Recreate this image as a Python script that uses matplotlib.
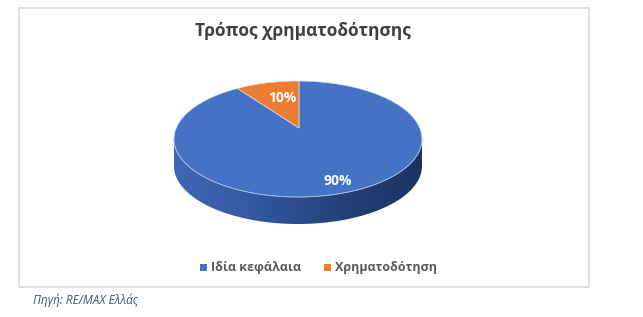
import numpy as np
import matplotlib
matplotlib.use("Agg")
import matplotlib.pyplot as plt
from matplotlib.patches import Polygon, Rectangle
from matplotlib.colors import LinearSegmentedColormap

plt.rcParams['font.family'] = ['Open Sans', 'DejaVu Sans']

labels = ["Ιδία κεφάλαια", "Χρηματοδότηση"]
shares = [90, 10]
colors = ["#4472C4", "#ED7D31"]
title = "Τρόπος χρηματοδότησης"
source = "Πηγή: RE/MAX Ελλάς"

fig = plt.figure(figsize=(6.43, 3.17), dpi=100)
ax = fig.add_axes([0, 0, 1, 1])
ax.set_xlim(0, 643)
ax.set_ylim(317, 0)
ax.axis('off')

# chart frame
ax.add_patch(Rectangle((19, 8), 570, 279, fill=False, edgecolor="#D9D9D9", linewidth=1.2))

# pie geometry (pixel space), apex a bit above ellipse centre for perspective
cx, cy, a, b, depth = 298, 139, 124, 58, 27
apex = np.array([299.0, 128.0])


def pt(t):
    t = np.radians(t)
    return cx + a * np.cos(t), cy - b * np.sin(t)


def rim(phi):
    # cast a ray from the apex in the (flattened) direction of phi onto the ellipse
    p = np.radians(phi)
    dx, dy = np.cos(p), -np.sin(p) * b / a
    ox, oy = apex[0] - cx, apex[1] - cy
    A = (dx / a) ** 2 + (dy / b) ** 2
    B = 2 * (ox * dx / a ** 2 + oy * dy / b ** 2)
    C = (ox / a) ** 2 + (oy / b) ** 2 - 1
    s = (-B + np.sqrt(B * B - 4 * A * C)) / (2 * A)
    return apex[0] + s * dx, apex[1] + s * dy


# side of the pie (front half), with a horizontal gradient
ts = np.linspace(180, 360, 200)
upper = np.array([pt(t) for t in ts])
lower = upper[::-1] + [0, depth]
side = Polygon(np.vstack([upper, lower]), closed=True, facecolor='none', edgecolor='none')
ax.add_patch(side)
cmap = LinearSegmentedColormap.from_list("side", ["#4068B5", "#3358A0", "#24427A", "#1B3360"])
grad = np.linspace(0, 1, 256).reshape(1, -1)
im = ax.imshow(grad, cmap=cmap, aspect='auto',
               extent=(cx - a, cx + a, cy + b + depth, cy - b), zorder=2)
im.set_clip_path(side)

# top face wedges, clockwise from 12 o'clock
start = 90.0
mids = []
for share, col in zip(shares, colors):
    sweep = share / sum(shares) * 360
    arc = np.linspace(start, start - sweep, 300)
    pts = np.vstack([[apex], [rim(t) for t in arc]])
    ax.add_patch(Polygon(pts, closed=True, facecolor=col, edgecolor='#D6E0F2',
                         linewidth=0.5, zorder=3))
    mids.append(start - sweep / 2)
    start -= sweep

# faint rim highlight
ax.plot(upper[:, 0], upper[:, 1], color="#8FA8DA", linewidth=0.7, alpha=0.6, zorder=4)

label_pos = {90: (338, 181), 10: (282, 98)}
for share in shares:
    x, y = label_pos[share]
    ax.text(x, y, f"{share}%", color='white', fontsize=10,
            fontweight='bold', ha='center', va='center', zorder=5)

ax.text(303, 31, title, fontsize=12.5, fontweight='bold', color='#404040',
        ha='center', va='center')

# legend
lx = [200, 324]
for x, lab, col in zip(lx, labels, colors):
    ax.add_patch(Rectangle((x, 264), 7, 7, facecolor=col, edgecolor='none'))
    ax.text(x + 11, 268, lab, fontsize=9, color='#595959', fontweight='bold',
            ha='left', va='center')

ax.text(33, 300, source, fontsize=8.5, style='italic', color='#44546A',
        ha='left', va='center')

fig.savefig("out.png", dpi=100)
